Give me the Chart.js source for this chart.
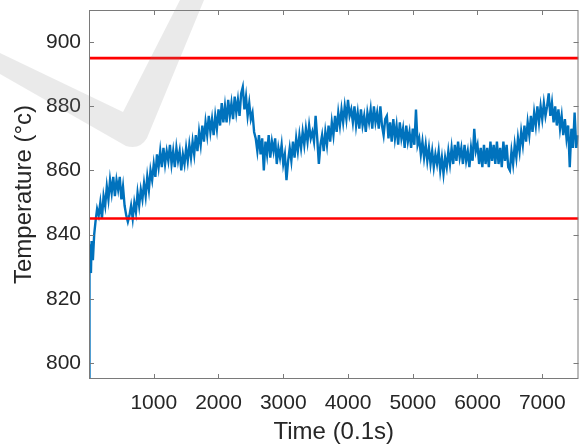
<!DOCTYPE html>
<html>
<head>
<meta charset="utf-8">
<script src="https://cdn.jsdelivr.net/npm/chart.js@4/dist/chart.umd.min.js"></script>
<style>
    html, body { margin: 0; padding: 0; background: #fff; }
    #wrap { width: 580px; height: 447px; }
</style>
</head>
<body>
<div id="wrap"><canvas id="tempChart"></canvas></div>
<script>
// === DATA ===
const earlyTime = [0, 5, 10, 20, 30, 40, 60, 80];
const earlyTemp = [795, 812, 830, 837, 828, 838, 832, 840];

// samples every 25 steps from t = 100 (one row = 500 steps)
const sampleStart = 100;
const sampleStep = 25;
const sampleTemp = [
    844, 848, 846, 850, 845, 852, 849, 855, 851, 857, 853, 858, 852, 857, 854, 858, 851, 855, 849, 846,
    844, 846, 849, 845, 850, 847, 853, 849, 854, 851, 856, 852, 858, 854, 860, 857, 862, 858, 865, 861,
    866, 861, 867, 862, 866, 863, 868, 862, 866, 861, 867, 863, 866, 860, 865, 862, 867, 863, 868, 864,
    869, 865, 871, 866, 872, 868, 874, 869, 875, 871, 877, 872, 876, 871, 877, 873, 879, 874, 881, 875,
    880, 875, 882, 877, 881, 876, 883, 878, 882, 877, 884, 886, 879, 883, 877, 881, 876, 878, 872, 870,
    866, 871, 865, 870, 860, 869, 865, 871, 864, 869, 866, 870, 862, 867, 864, 868, 862, 865, 857, 863,
    867, 863, 869, 864, 870, 866, 871, 867, 872, 868, 873, 869, 874, 870, 872, 869, 877, 870, 862, 868,
    871, 866, 872, 868, 874, 869, 875, 871, 877, 872, 878, 874, 879, 875, 880, 876, 882, 877, 879, 875,
    880, 874, 878, 873, 879, 874, 877, 872, 878, 875, 879, 873, 880, 875, 878, 873, 880, 874, 871, 876,
    877, 870, 875, 869, 876, 870, 874, 868, 875, 870, 873, 867, 874, 869, 872, 867, 873, 868, 879, 868,
    870, 865, 869, 864, 868, 863, 867, 862, 866, 861, 865, 862, 866, 860, 864, 859, 864, 861, 866, 862,
    867, 862, 868, 863, 869, 864, 867, 862, 868, 863, 866, 861, 867, 863, 873, 866, 868, 862, 867, 861,
    868, 862, 867, 861, 869, 863, 868, 862, 869, 862, 867, 861, 869, 863, 868, 861, 860, 866, 862, 868,
    864, 870, 866, 872, 868, 874, 869, 875, 871, 877, 872, 878, 874, 880, 875, 880, 876, 881, 877, 880,
    884, 877, 881, 875, 880, 874, 879, 873, 877, 871, 876, 870, 874, 861, 873, 867, 878, 867, 871
];

const upperLimit = 895;
const lowerLimit = 845;

const xTicks = [1000, 2000, 3000, 4000, 5000, 6000, 7000];
const yTicks = [800, 820, 840, 860, 880, 900];
const xMin = 0, xMax = 7560;
const yMin = 795, yMax = 910;

// build points
const tempPoints = earlyTime.map((t, i) => ({ x: t, y: earlyTemp[i] }));
sampleTemp.forEach((v, i) => {
    tempPoints.push({ x: sampleStart + i * sampleStep, y: v });
});

const font = "'Liberation Sans', Arial, Helvetica, sans-serif";

// === WATERMARK + AXES BOX WITH INWARD TICKS ===
const boxPlugin = {
    id: "matlabBox",
    afterDatasetsDraw(chart) {
        const { ctx, chartArea: a, scales: { x, y } } = chart;
        const len = 5;
        ctx.save();
        ctx.strokeStyle = "#7a7a7a";
        ctx.lineWidth = 1;
        ctx.strokeRect(a.left + 0.5, a.top + 0.5, a.right - a.left - 1, a.bottom - a.top - 1);
        ctx.beginPath();
        xTicks.forEach((v) => {
            const px = Math.round(x.getPixelForValue(v)) + 0.5;
            ctx.moveTo(px, a.bottom);
            ctx.lineTo(px, a.bottom - len);
            ctx.moveTo(px, a.top);
            ctx.lineTo(px, a.top + len);
        });
        yTicks.forEach((v) => {
            const py = Math.round(y.getPixelForValue(v)) + 0.5;
            ctx.moveTo(a.left, py);
            ctx.lineTo(a.left + len, py);
            ctx.moveTo(a.right, py);
            ctx.lineTo(a.right - len, py);
        });
        ctx.stroke();
        ctx.restore();
    },
    afterDraw(chart) {
        // faint check-mark watermark over the image
        const ctx = chart.ctx;
        ctx.save();
        ctx.fillStyle = "rgba(140,140,140,0.18)";
        ctx.beginPath();
        ctx.moveTo(0, 53);
        ctx.lineTo(123, 112);
        ctx.lineTo(180, 0);
        ctx.lineTo(204, 0);
        ctx.lineTo(147, 138);
        ctx.quadraticCurveTo(140, 150, 126, 146);
        ctx.lineTo(0, 74);
        ctx.closePath();
        ctx.fill();
        ctx.restore();
    },
};

new Chart(document.getElementById("tempChart"), {
    type: "line",
    data: {
        datasets: [
            {
                label: "Temperature",
                data: tempPoints,
                borderColor: "#0072BD",
                borderWidth: 2.4,
                pointRadius: 0,
                tension: 0,
                order: 2,
            },
            {
                label: "Upper",
                data: [{ x: xMin, y: upperLimit }, { x: xMax, y: upperLimit }],
                borderColor: "#ff0000",
                borderWidth: 2.6,
                pointRadius: 0,
                order: 1,
            },
            {
                label: "Lower",
                data: [{ x: xMin, y: lowerLimit }, { x: xMax, y: lowerLimit }],
                borderColor: "#ff0000",
                borderWidth: 2.6,
                pointRadius: 0,
                order: 1,
            },
        ],
    },
    options: {
        responsive: true,
        maintainAspectRatio: false,
        animation: false,
        layout: { padding: { top: 10, right: 1.5, left: 0, bottom: 0 } },
        plugins: { legend: { display: false }, tooltip: { enabled: false } },
        scales: {
            x: {
                type: "linear",
                min: xMin,
                max: xMax,
                grid: { display: false, drawTicks: false },
                border: { display: false },
                afterBuildTicks: (scale) => {
                    scale.ticks = xTicks.map((v) => ({ value: v }));
                },
                afterFit: (scale) => {
                    scale.height = 68;
                    scale.paddingLeft = 0;
                    scale.paddingRight = 0;
                },
                ticks: {
                    color: "#262626",
                    padding: 12,
                    maxRotation: 0,
                    font: { family: font, size: 21 },
                    callback: (v) => String(v),
                },
                title: {
                    display: true,
                    text: "Time (0.1s)",
                    color: "#262626",
                    font: { family: font, size: 24 },
                    padding: { top: 0, bottom: 0 },
                },
            },
            y: {
                type: "linear",
                min: yMin,
                max: yMax,
                grid: { display: false, drawTicks: false },
                border: { display: false },
                afterBuildTicks: (scale) => {
                    scale.ticks = yTicks.map((v) => ({ value: v }));
                },
                afterFit: (scale) => {
                    scale.width = 89;
                    scale.paddingTop = 0;
                    scale.paddingBottom = 0;
                },
                ticks: {
                    color: "#262626",
                    padding: 8,
                    font: { family: font, size: 21 },
                    callback: (v) => String(v),
                },
                title: {
                    display: true,
                    text: "Temperature (°c)",
                    color: "#262626",
                    font: { family: font, size: 24 },
                    padding: { top: 10, bottom: 0 },
                },
            },
        },
    },
    plugins: [boxPlugin],
});
</script>
</body>
</html>
